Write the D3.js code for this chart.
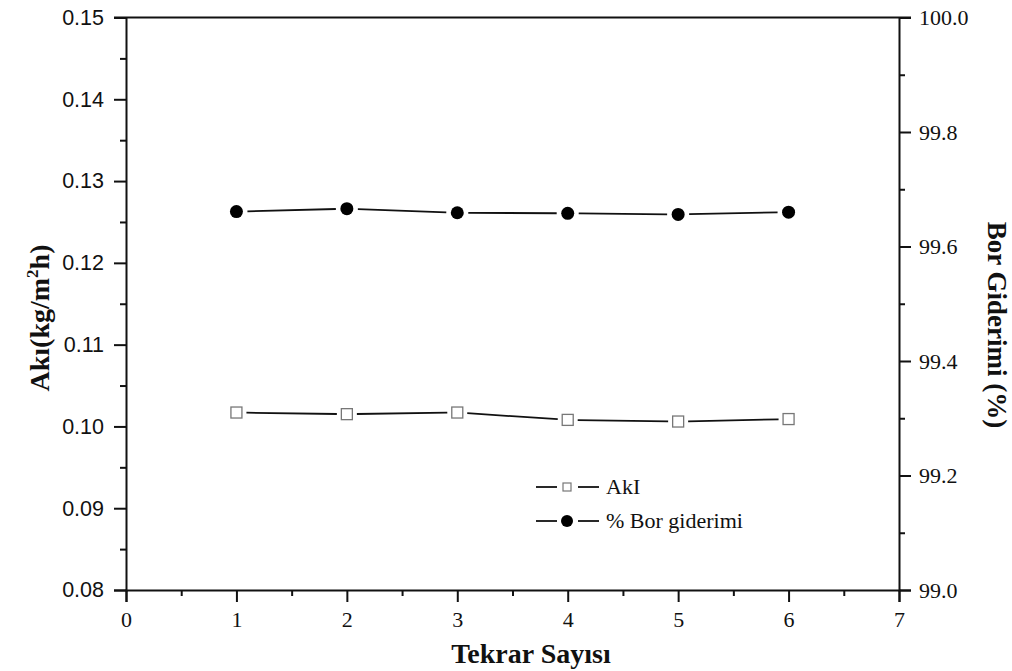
<!DOCTYPE html>
<html>
<head>
<meta charset="utf-8">
<script src="https://cdn.jsdelivr.net/npm/d3@7/dist/d3.min.js"></script>
<style>
  body { margin: 0; background: #fff; }
  svg { display: block; }
</style>
</head>
<body>
<svg id="chart" width="1012" height="671"></svg>
<script>
const runs = [1, 2, 3, 4, 5, 6];
const fluxValues = [0.1017, 0.1015, 0.1017, 0.1008, 0.1006, 0.1009];
const boronValues = [99.661, 99.666, 99.659, 99.658, 99.656, 99.660];

const xMajor = [0, 1, 2, 3, 4, 5, 6, 7];
const leftMajor = [0.08, 0.09, 0.10, 0.11, 0.12, 0.13, 0.14, 0.15];
const rightMajor = [99.0, 99.2, 99.4, 99.6, 99.8, 100.0];

const margin = { top: 17.5, right: 113, bottom: 81, left: 126 };
const W = 1012, H = 671;
const svg = d3.select("#chart");

const x = d3.scaleLinear().domain([0, 7]).range([margin.left, W - margin.right]);
const yL = d3.scaleLinear().domain([0.08, 0.15]).range([H - margin.bottom, margin.top]);
const yR = d3.scaleLinear().domain([99.0, 100.0]).range([H - margin.bottom, margin.top]);

const serif = "'Liberation Serif', 'Times New Roman', serif";
const sans = "'Liberation Sans', Arial, sans-serif";

// minor ticks (half steps)
const xMinor = d3.range(0.5, 7, 1);
const leftMinor = d3.range(0.085, 0.15, 0.01);
const rightMinor = d3.range(99.1, 100, 0.2);

function styleAxis(g) {
  g.select(".domain").attr("stroke", "#111").attr("stroke-width", 2);
  g.selectAll(".tick line").attr("stroke", "#111").attr("stroke-width", 2);
}

// x axis
const gx = svg.append("g").attr("transform", `translate(0,${H - margin.bottom})`)
  .call(d3.axisBottom(x).tickValues(xMajor).tickSize(12).tickPadding(9).tickFormat(d3.format("d")));
styleAxis(gx);
gx.selectAll(".tick text").attr("font-family", serif).attr("font-size", 22).attr("fill", "#111");
svg.append("g").attr("transform", `translate(0,${H - margin.bottom})`)
  .call(d3.axisBottom(x).tickValues(xMinor).tickSize(6).tickFormat(""))
  .call(g => g.select(".domain").remove())
  .call(styleAxis);

// left axis
const gl = svg.append("g").attr("transform", `translate(${margin.left},0)`)
  .call(d3.axisLeft(yL).tickValues(leftMajor).tickSize(12).tickPadding(10).tickFormat(d3.format(".2f")));
styleAxis(gl);
gl.selectAll(".tick text").attr("font-family", sans).attr("font-size", 21.5).attr("fill", "#111");
svg.append("g").attr("transform", `translate(${margin.left},0)`)
  .call(d3.axisLeft(yL).tickValues(leftMinor).tickSize(6).tickFormat(""))
  .call(g => g.select(".domain").remove())
  .call(styleAxis);

// right axis
const gr = svg.append("g").attr("transform", `translate(${W - margin.right},0)`)
  .call(d3.axisRight(yR).tickValues(rightMajor).tickSize(12).tickPadding(8).tickFormat(d3.format(".1f")));
styleAxis(gr);
gr.selectAll(".tick text").attr("font-family", serif).attr("font-size", 22).attr("fill", "#111");
svg.append("g").attr("transform", `translate(${W - margin.right},0)`)
  .call(d3.axisRight(yR).tickValues(rightMinor).tickSize(6).tickFormat(""))
  .call(g => g.select(".domain").remove())
  .call(styleAxis);

// top border
svg.append("line")
  .attr("x1", margin.left - 12).attr("x2", W - margin.right + 12)
  .attr("y1", margin.top).attr("y2", margin.top)
  .attr("stroke", "#111").attr("stroke-width", 2);

// axis titles
svg.append("text")
  .attr("transform", "translate(49,318) rotate(-90)")
  .attr("text-anchor", "middle")
  .attr("font-family", serif).attr("font-weight", "bold").attr("font-size", 28).attr("fill", "#111")
  .call(t => {
    t.append("tspan").text("Akı(kg/m");
    t.append("tspan").text("2").attr("font-size", 17).attr("dy", -11);
    t.append("tspan").text("h)").attr("dy", 11);
  });

svg.append("text")
  .attr("transform", "translate(988,325) rotate(90)")
  .attr("text-anchor", "middle")
  .attr("font-family", serif).attr("font-weight", "bold").attr("font-size", 27).attr("fill", "#111")
  .text("Bor Giderimi (%)");

svg.append("text")
  .attr("x", 531).attr("y", 663)
  .attr("text-anchor", "middle")
  .attr("font-family", serif).attr("font-weight", "bold").attr("font-size", 28).attr("fill", "#111")
  .text("Tekrar Sayısı");

// connecting segments with gaps at markers
function gappedSegments(xs, ys, yScale, gap) {
  const pts = xs.map((d, i) => [x(d), yScale(ys[i])]);
  const segs = [];
  for (let i = 0; i < pts.length - 1; i++) {
    const [x1, y1] = pts[i], [x2, y2] = pts[i + 1];
    const len = Math.hypot(x2 - x1, y2 - y1);
    const ux = (x2 - x1) / len, uy = (y2 - y1) / len;
    segs.push([[x1 + ux * gap, y1 + uy * gap], [x2 - ux * gap, y2 - uy * gap]]);
  }
  return segs;
}

const line = d3.line();

svg.append("g").selectAll("path")
  .data(gappedSegments(runs, fluxValues, yL, 10))
  .join("path")
  .attr("d", line).attr("fill", "none").attr("stroke", "#111").attr("stroke-width", 1.8);

svg.append("g").selectAll("path")
  .data(gappedSegments(runs, boronValues, yR, 11))
  .join("path")
  .attr("d", line).attr("fill", "none").attr("stroke", "#111").attr("stroke-width", 1.8);

// markers
svg.append("g").selectAll("rect")
  .data(runs)
  .join("rect")
  .attr("x", (d) => x(d) - 5.5).attr("y", (d, i) => yL(fluxValues[i]) - 5.5)
  .attr("width", 11).attr("height", 11)
  .attr("fill", "#fff").attr("stroke", "#777").attr("stroke-width", 1.3);

svg.append("g").selectAll("circle")
  .data(runs)
  .join("circle")
  .attr("cx", (d) => x(d)).attr("cy", (d, i) => yR(boronValues[i]))
  .attr("r", 6.5).attr("fill", "#000");

// legend
const legend = svg.append("g").attr("transform", "translate(536,487)");
const rows = [
  { label: "AkI", type: "square" },
  { label: "% Bor giderimi", type: "circle" }
];
rows.forEach((r, i) => {
  const g = legend.append("g").attr("transform", `translate(0,${i * 34})`);
  g.append("line").attr("x1", 0).attr("x2", 21).attr("stroke", "#111").attr("stroke-width", 1.8);
  g.append("line").attr("x1", 42).attr("x2", 63).attr("stroke", "#111").attr("stroke-width", 1.8);
  if (r.type === "square") {
    g.append("rect").attr("x", 27).attr("y", -4).attr("width", 8).attr("height", 8)
      .attr("fill", "#fff").attr("stroke", "#777").attr("stroke-width", 1.2);
  } else {
    g.append("circle").attr("cx", 31).attr("cy", 0).attr("r", 6).attr("fill", "#000");
  }
  g.append("text").attr("x", 70).attr("y", 7)
    .attr("font-family", serif).attr("font-size", 22).attr("fill", "#111")
    .text(r.label);
});
</script>
</body>
</html>
